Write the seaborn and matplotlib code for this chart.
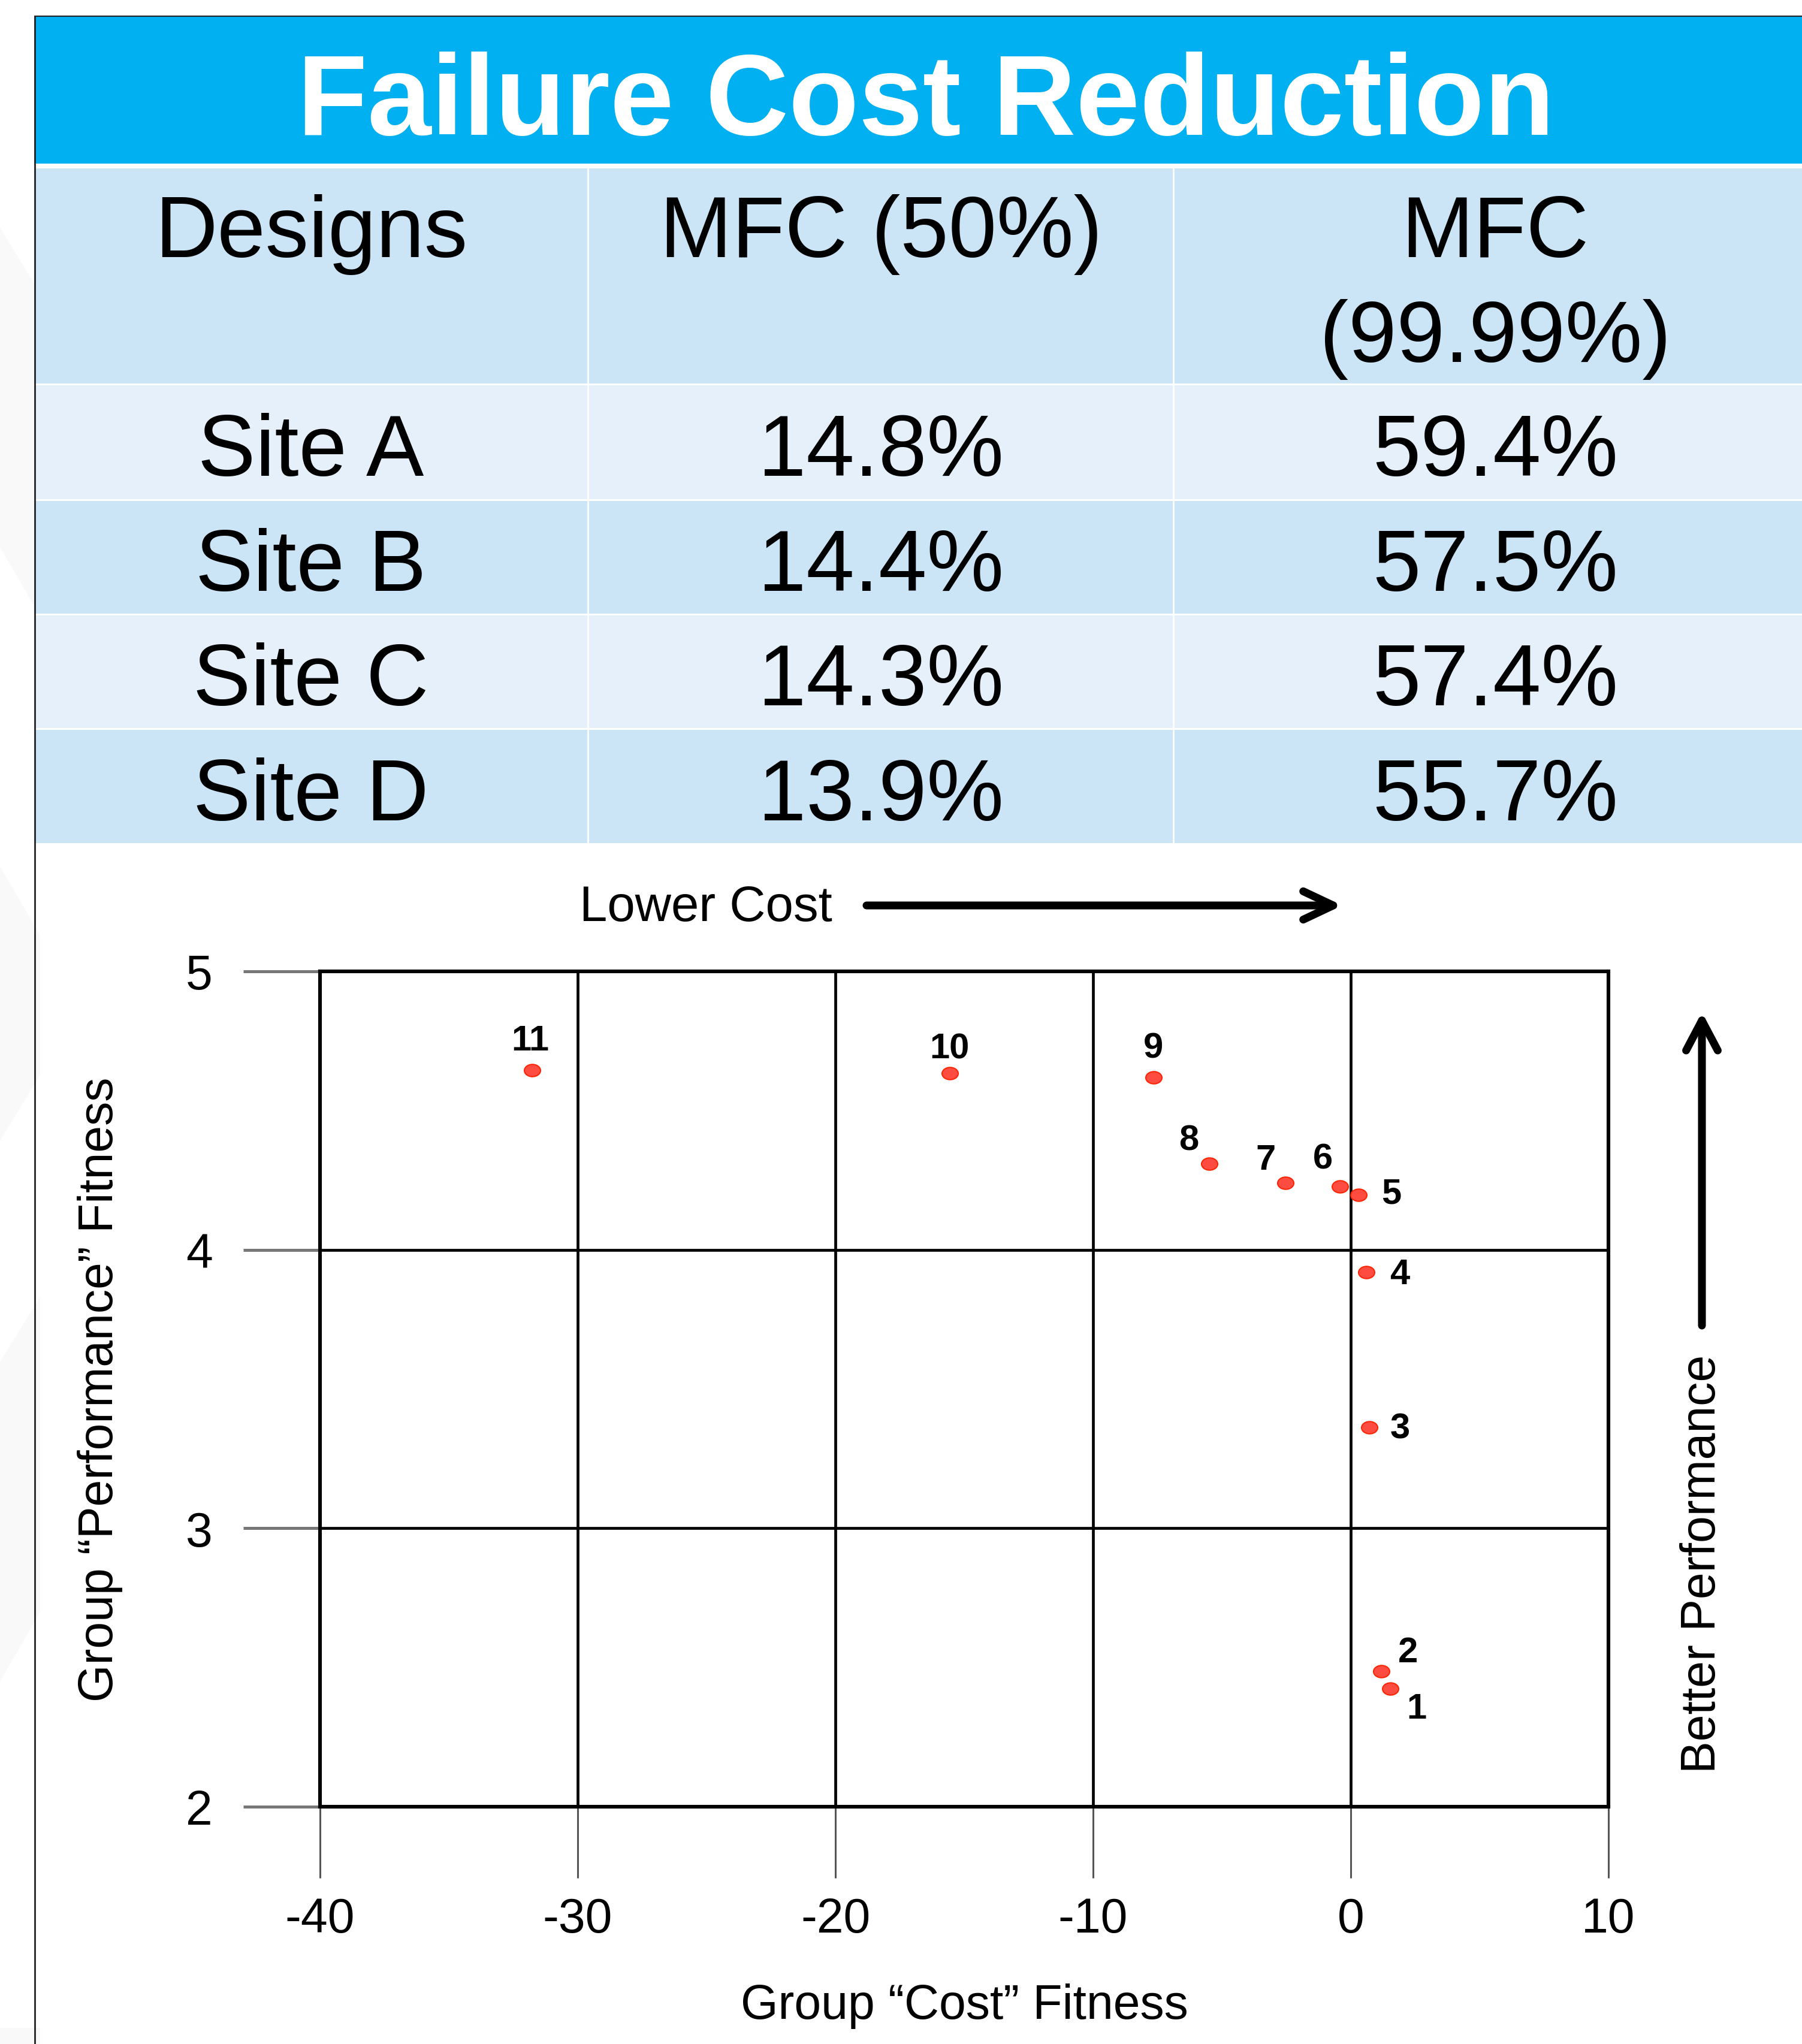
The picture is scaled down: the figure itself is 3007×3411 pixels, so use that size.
import numpy as np
import matplotlib
matplotlib.use("Agg")
import matplotlib.pyplot as plt
from matplotlib.patches import Rectangle, Polygon
from matplotlib.path import Path
import seaborn as sns

# ---- table data ----
sites = ["Site A", "Site B", "Site C", "Site D"]
mfc_50 = [14.8, 14.4, 14.3, 13.9]
mfc_9999 = [59.4, 57.5, 57.4, 55.7]
header = ["Designs", "MFC (50%)", "MFC\n(99.99%)"]

# ---- Pareto front of designs ----
design_ids = [1, 2, 3, 4, 5, 6, 7, 8, 9, 10, 11]
cost_fitness = [1.53, 1.18, 0.71, 0.61, 0.31, -0.43, -2.53, -5.50, -7.66, -15.56, -31.77]
perf_fitness = [2.425, 2.486, 3.363, 3.92, 4.197, 4.228, 4.24, 4.31, 4.62, 4.634, 4.644]
x_ticks = [-40, -30, -20, -10, 0, 10]
y_ticks = [2, 3, 4, 5]

# label placement (offset points from each design marker, to the text centre)
label_offsets = [(32, -20), (32, 27), (37, 3), (40, 2), (39, 6), (-20, 37),
                 (-24, 32), (-24, 32), (0, 39), (0, 34), (-2, 40)]

sns.set_theme(style="white")
plt.rcParams["font.family"] = ["Liberation Sans", "DejaVu Sans"]
plt.rcParams["axes.unicode_minus"] = False
plt.rcParams["text.color"] = "black"
plt.rcParams["axes.labelcolor"] = "black"
plt.rcParams["xtick.color"] = "black"
plt.rcParams["ytick.color"] = "black"

W, H = 3007, 3412
fig = plt.figure(figsize=(W / 100, H / 100), dpi=100)
fig.patch.set_facecolor("white")

# page layer in pixel coordinates
bg = fig.add_axes([0, 0, 1, 1], zorder=0)
bg.set_xlim(0, W)
bg.set_ylim(H, 0)
bg.axis("off")

# faint decorative shapes in the left margin
shade = "#f9f9f9"
for pts in [[(0, 381), (57, 474), (57, 1012), (0, 914)],
            [(0, 1447), (67, 1562), (67, 1795), (0, 1904)],
            [(0, 2274), (67, 2165), (67, 2691), (0, 2807)],
            [(0, 3385), (67, 3385), (67, 3412), (0, 3412)]]:
    bg.add_patch(Polygon(pts, closed=True, facecolor=shade, edgecolor="none", zorder=0))

# title band
bg.add_patch(Rectangle((57, 28), W - 57, 246, facecolor="#00B0F0", edgecolor="none", zorder=1))
bg.text(1545, 225, "Failure Cost Reduction", ha="center", va="baseline",
        fontsize=138, fontweight="bold", color="white", zorder=3)

# table body
dark_row = "#CBE4F6"
light_row = "#E6F0FA"
col_edges = [57, 981, 1958, W]
col_centres = [519, 1470, 2495]
bg.add_patch(Rectangle((57, 282), W - 57, 359, facecolor=dark_row, edgecolor="none", zorder=1))
row_spans = [(644, 834), (837, 1025), (1028, 1216), (1219, 1408)]
for i, (y0, y1) in enumerate(row_spans):
    bg.add_patch(Rectangle((57, y0), W - 57, y1 - y0,
                           facecolor=light_row if i % 2 == 0 else dark_row,
                           edgecolor="none", zorder=1))
for xe in col_edges[1:3]:
    bg.plot([xe, xe], [282, 1408], color="white", lw=2, zorder=2)

# header cells (multi-line headers stack their lines downwards)
for txt, xc in zip(header, col_centres):
    for k, line in enumerate(txt.split("\n")):
        bg.text(xc, 429 + 175 * k, line, ha="center", va="baseline",
                fontsize=104, color="black", zorder=3)

for i, (site, a, b) in enumerate(zip(sites, mfc_50, mfc_9999)):
    y0, y1 = row_spans[i]
    base = (y0 + y1) / 2 + 55
    bg.text(col_centres[0], base, site, ha="center", va="baseline", fontsize=104,
            color="black", zorder=3)
    bg.text(col_centres[1], base, f"{a:.1f}%", ha="center", va="baseline", fontsize=104,
            color="black", zorder=3)
    bg.text(col_centres[2], base, f"{b:.1f}%", ha="center", va="baseline", fontsize=104,
            color="black", zorder=3)

# slide frame
bg.plot([58, 58], [28, H], color="#222222", lw=2.0, zorder=4)
bg.plot([58, W], [28, 28], color="#222222", lw=1.5, zorder=4)

# direction hints around the plot
bg.text(967, 1537, "Lower Cost", ha="left", va="baseline", fontsize=60,
        color="black", zorder=3)
bg.annotate("", xy=(2240, 1512), xytext=(1446, 1512),
            arrowprops=dict(arrowstyle="->,head_length=0.36,head_width=0.17",
                            lw=9.4, color="black", shrinkA=0, shrinkB=0,
                            mutation_scale=100), zorder=3)
bg.annotate("", xy=(2840, 1690), xytext=(2840, 2213),
            arrowprops=dict(arrowstyle="->,head_length=0.36,head_width=0.19",
                            lw=9.4, color="black", shrinkA=0, shrinkB=0,
                            mutation_scale=100), zorder=3)
bg.text(2841, 2610, "Better Performance", rotation=90, ha="center", va="center",
        fontsize=58, color="black", zorder=3)

# ---- scatter plot ----
ax = fig.add_axes([534 / W, 1 - 3016 / H, 2150 / W, 1394 / H], zorder=1)
ax.set_facecolor("white")

circle = Path.unit_circle()
ellipse = Path(circle.vertices * np.array([1.32, 1.0]), circle.codes)

sns.scatterplot(x=cost_fitness, y=perf_fitness, ax=ax, marker=ellipse, s=380,
                color="#FF4C40", edgecolor="#FF2200", linewidth=1.4, zorder=4,
                legend=False)

for did, cx, py, (dx, dy) in zip(design_ids, cost_fitness, perf_fitness, label_offsets):
    ax.annotate(str(did), xy=(cx, py), xytext=(dx, dy - 15.5), textcoords="offset points",
                ha="center", va="baseline", fontsize=43, fontweight="bold",
                color="black", zorder=5)

ax.set_xlim(-40, 10)
ax.set_ylim(2, 5)
ax.set_xticks(x_ticks)
ax.set_yticks(y_ticks)
ax.set_xticklabels([str(v) for v in x_ticks])
ax.set_yticklabels([str(v) for v in y_ticks])
ax.grid(True, color="black", lw=3.4, zorder=1)
ax.set_axisbelow(True)
for sp in ax.spines.values():
    sp.set_visible(True)
    sp.set_color("black")
    sp.set_linewidth(4.4)
    sp.set_zorder(3)

ax.tick_params(axis="y", left=True, direction="out", length=92, width=3.6,
               color="#777777", pad=37, labelsize=58, labelcolor="black")
ax.tick_params(axis="x", bottom=True, direction="out", length=86, width=2.2,
               color="#555555", pad=22, labelsize=58, labelcolor="black")

ax.set_xlabel("Group \u201cCost\u201d Fitness", fontsize=58, color="black")
ax.xaxis.set_label_coords(0.5, -0.211)
ax.set_ylabel("Group \u201cPerformance\u201d Fitness", fontsize=58, color="black")
ax.yaxis.set_label_coords((205 - 534) / 2150, 0.5)

fig.savefig("out.png", dpi=100, facecolor="white")
